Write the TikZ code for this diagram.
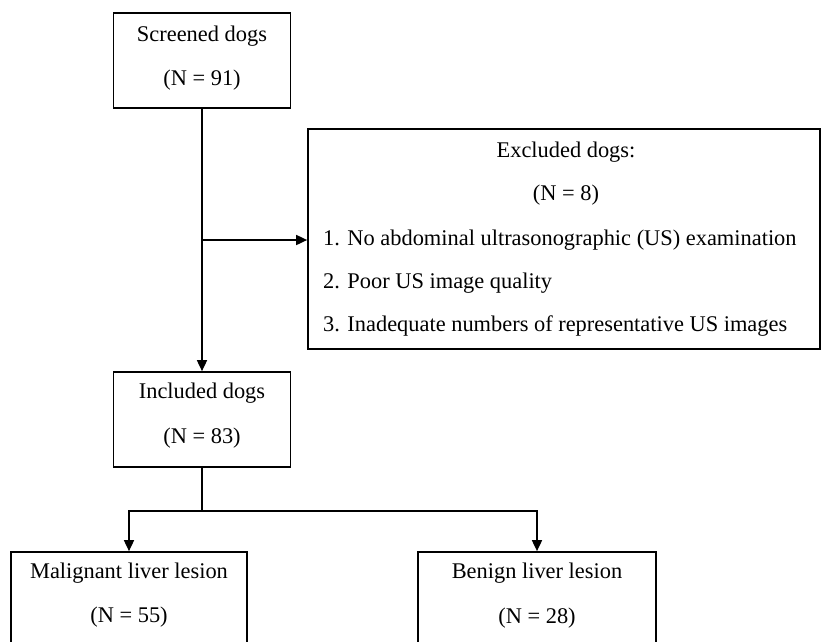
\documentclass[tikz,border=0pt]{standalone}
\usepackage{fontspec}
\setmainfont{Liberation Serif}
\usetikzlibrary{arrows.meta}
\begin{document}
\begin{tikzpicture}[x=1pt,y=-1pt,
  box/.style={draw=black, line width=1.7pt, inner sep=0pt},
  txt/.style={font=\fontsize{22.4}{25}\selectfont, inner sep=0pt, anchor=center},
  ltxt/.style={font=\fontsize{22.4}{25}\selectfont, inner sep=0pt, anchor=west},
  conn/.style={line width=1.7pt},
  arr/.style={conn, -{Triangle[length=11pt,width=10pt]}}]
\useasboundingbox (0,0) rectangle (822,641);
\clip (0,0) rectangle (822,641);
\node[box, minimum width=177pt, minimum height=95pt] (scr) at (202,60.5) {};
\node[box, minimum width=512pt, minimum height=220pt] (exc) at (564,239) {};
\node[box, minimum width=177pt, minimum height=95pt] (inc) at (202,419.5) {};
\node[box, minimum width=236pt, minimum height=110pt] (mal) at (129,607) {};
\node[box, minimum width=238pt, minimum height=110pt] (ben) at (537,607) {};
% texts
\node[txt] (t1) at (202,36) {Screened dogs};
\node[txt] (t2) at (202,80) {(N = 91)};
\node[txt] (t3) at (566,152) {Excluded dogs:};
\node[txt] (t4) at (566,195) {(N = 8)};
\node[ltxt] (t5) at (323,240) {1. No abdominal ultrasonographic (US) examination};
\node[ltxt] (t6) at (323,283) {2. Poor US image quality};
\node[ltxt] (t7) at (323,326) {3. Inadequate numbers of representative US images};
\node[txt] (t8) at (202,393) {Included dogs};
\node[txt] (t9) at (202,438) {(N = 83)};
\node[txt] (t10) at (129,573) {Malignant liver lesion};
\node[txt] (t11) at (129,617) {(N = 55)};
\node[txt] (t12) at (537,573) {Benign liver lesion};
\node[txt] (t13) at (537,618) {(N = 28)};
% connectors
\coordinate (j1) at (202,240);
\coordinate (j2) at (202,511);
\draw[arr] (scr.south) -- (inc.north);
\draw[arr] (j1) -- (exc.west |- j1);
\draw[conn] (inc.south) -- (j2);
\draw[arr] (j2) -| (mal.north);
\draw[arr] (j2) -| (ben.north);
\end{tikzpicture}
\end{document}
